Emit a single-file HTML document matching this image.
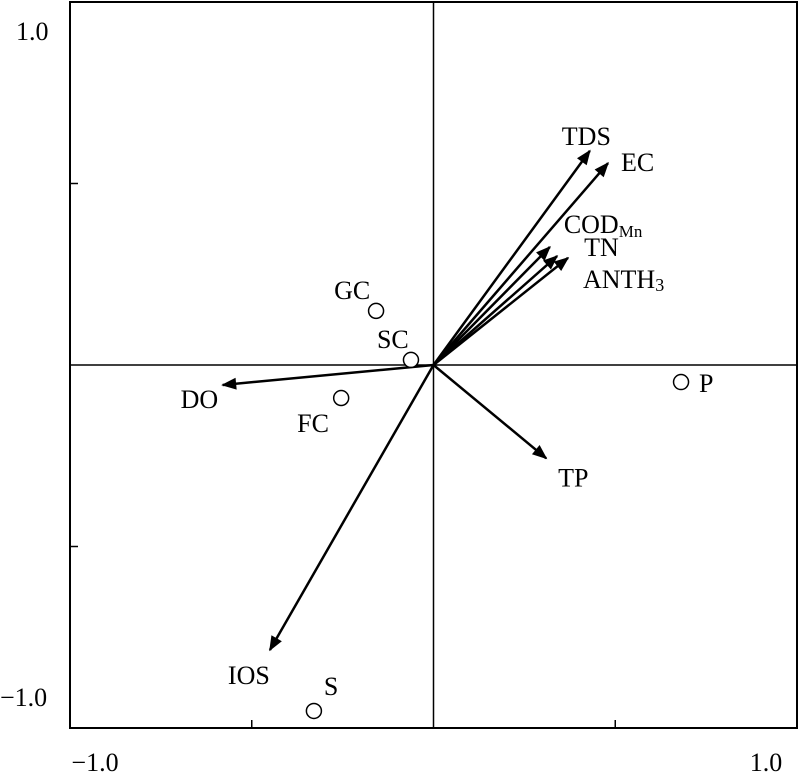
<!DOCTYPE html>
<html><head><meta charset="utf-8"><style>
body{margin:0;background:#fff}
svg text{font-family:"Liberation Serif",serif;font-size:26px;fill:#000}
</style></head><body>
<svg width="800" height="773" viewBox="0 0 800 773">
<defs><marker id="ah" viewBox="0 0 10 10" refX="9" refY="5" markerWidth="7" markerHeight="6" orient="auto" markerUnits="strokeWidth"><path d="M0,1 L10,5 L0,9 z" fill="#000"/></marker></defs>
<g id="frame"></g><g id="arrows"></g><g id="sites"></g><g id="labels"></g>
</svg>
<script>
const envNames=["TDS","EC","COD","TN","ANTH3","DO","TP","IOS"];
const envX=[0.43,0.48,0.32,0.34,0.37,-0.58,0.31,-0.45];
const envY=[0.59,0.556,0.325,0.30,0.295,-0.055,-0.257,-0.785];
const siteNames=["GC","SC","FC","P","S"];
const siteX=[-0.158,-0.062,-0.254,0.681,-0.329];
const siteY=[0.149,0.014,-0.091,-0.047,-0.953];
const xTicks=[-1,-0.5,0,0.5,1];
const yTicks=[-1,-0.5,0,0.5,1];
const X0=70,X1=797,Y0=728,Y1=2;
const sx=v=>X0+(v+1)/2*(X1-X0);
const sy=v=>Y0-(v+1)/2*(Y0-Y1);
const NS="http://www.w3.org/2000/svg";
function mk(t,a,p){const e=document.createElementNS(NS,t);for(const k in a)e.setAttribute(k,a[k]);p.appendChild(e);return e;}
const fr=document.getElementById('frame'),ar=document.getElementById('arrows'),st=document.getElementById('sites'),lb=document.getElementById('labels');
let r=mk('rect',{x:X0,y:Y1,width:X1-X0,height:Y0-Y1,fill:'none',stroke:'#000','stroke-width':2},fr);


let l=mk('line',{x1:sx(0),y1:Y1,x2:sx(0),y2:Y0,stroke:'#000','stroke-width':1.5},fr);


l=mk('line',{x1:X0,y1:sy(0),x2:X1,y2:sy(0),stroke:'#000','stroke-width':1.5},fr);


xTicks.forEach(v=>{if(Math.abs(v)==0.5){let t=mk('line',{x1:sx(v),y1:Y0,x2:sx(v),y2:Y0-8,stroke:'#000','stroke-width':1.5},fr);

}});
yTicks.forEach(v=>{if(Math.abs(v)==0.5){let t=mk('line',{x1:X0,y1:sy(v),x2:X0+8,y2:sy(v),stroke:'#000','stroke-width':1.5},fr);

}});
function txt(s,x,y,anchor,name){let t=mk('text',{x:x,y:y,'text-anchor':anchor||'start'},lb);t.textContent=s;

return t;}
txt('1.0',16,40,'start','y-tick-label-top');
txt('\u22121.0',0,706,'start','y-tick-label-bottom');
txt('\u22121.0',95,771,'middle','x-tick-label-left');
txt('1.0',766,771,'middle','x-tick-label-right');
envNames.forEach((n,i)=>{let a=mk('line',{x1:sx(0),y1:sy(0),x2:sx(envX[i]),y2:sy(envY[i]),stroke:'#000','stroke-width':2.5,'marker-end':'url(#ah)'},ar);

});
const envLab={TDS:[-28,-6],EC:[13,8],COD:[14,-14],TN:[27,0],ANTH3:[15,30],DO:[-42,23],TP:[12,28],IOS:[-42,34]};
envNames.forEach((n,i)=>{const o=envLab[n];const x=sx(envX[i])+o[0],y=sy(envY[i])+o[1];
if(n==='COD'){let t=txt('COD',x,y,'start','label-codmn');let s=document.createElementNS(NS,'tspan');s.setAttribute('font-size','17');s.setAttribute('dy','4');s.textContent='Mn';t.appendChild(s);}
else if(n==='ANTH3'){let t=txt('ANTH',x,y,'start','label-anth3');let s=document.createElementNS(NS,'tspan');s.setAttribute('font-size','18');s.setAttribute('dy','3');s.textContent='3';t.appendChild(s);}
else txt(n,x,y,'start','label-'+n.toLowerCase());});
const siteLab={GC:[-42,-12],SC:[-34,-12],FC:[-44,34],P:[18,10],S:[10,-16]};
siteNames.forEach((n,i)=>{let c=mk('circle',{cx:sx(siteX[i]),cy:sy(siteY[i]),r:7.5,fill:'#fff',stroke:'#000','stroke-width':1.5},st);


const o=siteLab[n];txt(n,sx(siteX[i])+o[0],sy(siteY[i])+o[1],'start','site-label-'+n.toLowerCase());});
</script>
</body></html>
